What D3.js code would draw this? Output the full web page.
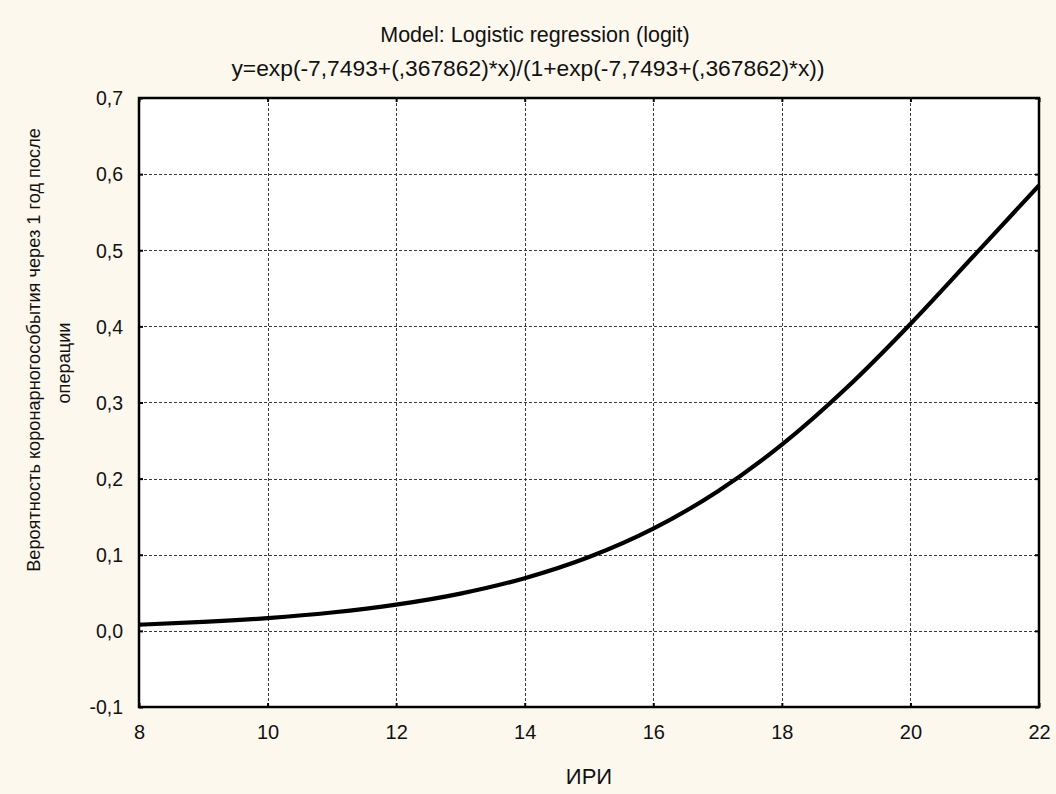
<!DOCTYPE html>
<html>
<head>
<meta charset="utf-8">
<script src="https://cdn.jsdelivr.net/npm/d3@7/dist/d3.min.js"></script>
<style>
  html, body { margin: 0; padding: 0; background: #fdf8ee; }
  svg { display: block; font-family: "Liberation Sans", Arial, sans-serif; }
</style>
</head>
<body>
<svg id="chart" width="1056" height="794"></svg>
<script>
// Fitted logistic curve: probability of a coronary event vs. ИРИ
const iriValues = [8, 9, 10, 11, 12, 13, 14, 15, 16, 17, 18, 19, 20, 21, 22];
const probValues = [0.0081, 0.0117, 0.0168, 0.0241, 0.0344, 0.0489, 0.0692, 0.0970,
                    0.1343, 0.1831, 0.2446, 0.3187, 0.4032, 0.4940, 0.5851];
const xTicks = [8, 10, 12, 14, 16, 18, 20, 22];
const yTicks = [-0.1, 0.0, 0.1, 0.2, 0.3, 0.4, 0.5, 0.6, 0.7];
const titleLines = [
  "Model: Logistic regression (logit)",
  "y=exp(-7,7493+(,367862)*x)/(1+exp(-7,7493+(,367862)*x))"
];
const xTitle = "ИРИ";
const yTitleLines = ["Вероятность коронарногособытия через 1 год после", "операции"];

const svg = d3.select("#chart");
const W = 1056, H = 794;
const plot = { left: 139, top: 98, right: 1039, bottom: 707 };

svg.append("rect").attr("width", W).attr("height", H).attr("fill", "#fdf8ee");

const x = d3.scaleLinear().domain([8, 22]).range([plot.left, plot.right]);
const y = d3.scaleLinear().domain([-0.1, 0.7]).range([plot.bottom, plot.top]);

const fmt = v => d3.format(".1f")(v).replace(".", ",").replace("−", "-");

// plot background
svg.append("rect")
  .attr("x", plot.left).attr("y", plot.top)
  .attr("width", plot.right - plot.left).attr("height", plot.bottom - plot.top)
  .attr("fill", "#ffffff");

// dotted grid
const grid = svg.append("g").attr("stroke", "#3a3a3a").attr("stroke-width", 1)
  .attr("stroke-dasharray", "3,2").attr("shape-rendering", "crispEdges");
grid.selectAll("line.gx").data(xTicks.slice(1, -1)).join("line")
  .attr("x1", d => Math.round(x(d)) + 0.5).attr("x2", d => Math.round(x(d)) + 0.5)
  .attr("y1", plot.top).attr("y2", plot.bottom);
grid.selectAll("line.gy").data(yTicks.slice(1, -1)).join("line")
  .attr("y1", d => Math.round(y(d)) + 0.5).attr("y2", d => Math.round(y(d)) + 0.5)
  .attr("x1", plot.left).attr("x2", plot.right);

// axes with inward tick marks on all four sides
const tickLen = 4;
const axB = svg.append("g").attr("transform", `translate(0,${plot.bottom})`)
  .call(d3.axisBottom(x).tickValues(xTicks).tickSizeInner(-tickLen).tickSizeOuter(0).tickFormat(d => d));
const axT = svg.append("g").attr("transform", `translate(0,${plot.top})`)
  .call(d3.axisTop(x).tickValues(xTicks).tickSizeInner(-tickLen).tickSizeOuter(0).tickFormat(""));
const axL = svg.append("g").attr("transform", `translate(${plot.left},0)`)
  .call(d3.axisLeft(y).tickValues(yTicks).tickSizeInner(-tickLen).tickSizeOuter(0).tickFormat(fmt));
const axR = svg.append("g").attr("transform", `translate(${plot.right},0)`)
  .call(d3.axisRight(y).tickValues(yTicks).tickSizeInner(-tickLen).tickSizeOuter(0).tickFormat(""));

[axB, axT, axL, axR].forEach(a => {
  a.select(".domain").remove();
  a.selectAll(".tick line").attr("stroke", "#000").attr("stroke-width", 2);
});
axB.selectAll(".tick text")
  .attr("y", 0).attr("dy", 0).attr("transform", "translate(0,32)")
  .attr("fill", "#111").attr("font-size", 20).attr("font-family", "Liberation Sans, Arial, sans-serif");
axL.selectAll(".tick text")
  .attr("x", -16).attr("dy", "0.35em")
  .attr("fill", "#111").attr("font-size", 19.5).attr("font-family", "Liberation Sans, Arial, sans-serif");

// fitted curve
const line = d3.line()
  .x((d, i) => x(iriValues[i]))
  .y(d => y(d))
  .curve(d3.curveMonotoneX);
svg.append("path")
  .datum(probValues)
  .attr("d", line)
  .attr("fill", "none")
  .attr("stroke", "#000")
  .attr("stroke-width", 4.2)
  .attr("stroke-linejoin", "round");

// frame
svg.append("rect")
  .attr("x", plot.left).attr("y", plot.top)
  .attr("width", plot.right - plot.left).attr("height", plot.bottom - plot.top)
  .attr("fill", "none").attr("stroke", "#000").attr("stroke-width", 2.5);

// titles
const titleSizes = [21.5, 22.8];
svg.append("g").selectAll("text").data(titleLines).join("text")
  .attr("x", (d, i) => i === 0 ? 535 : 528).attr("y", (d, i) => 42 + i * 34)
  .attr("text-anchor", "middle").attr("font-size", (d, i) => titleSizes[i]).attr("fill", "#111")
  .text(d => d);

svg.append("text")
  .attr("x", (plot.left + plot.right) / 2).attr("y", 784)
  .attr("text-anchor", "middle").attr("font-size", 22).attr("fill", "#111")
  .text(xTitle);

svg.append("g").selectAll("text").data(yTitleLines).join("text")
  .attr("transform", (d, i) => `translate(${i === 0 ? 40 : 70},${i === 0 ? 350 : 363}) rotate(-90)`)
  .attr("text-anchor", "middle").attr("font-size", 18.2).attr("fill", "#111")
  .text(d => d);
</script>
</body>
</html>
